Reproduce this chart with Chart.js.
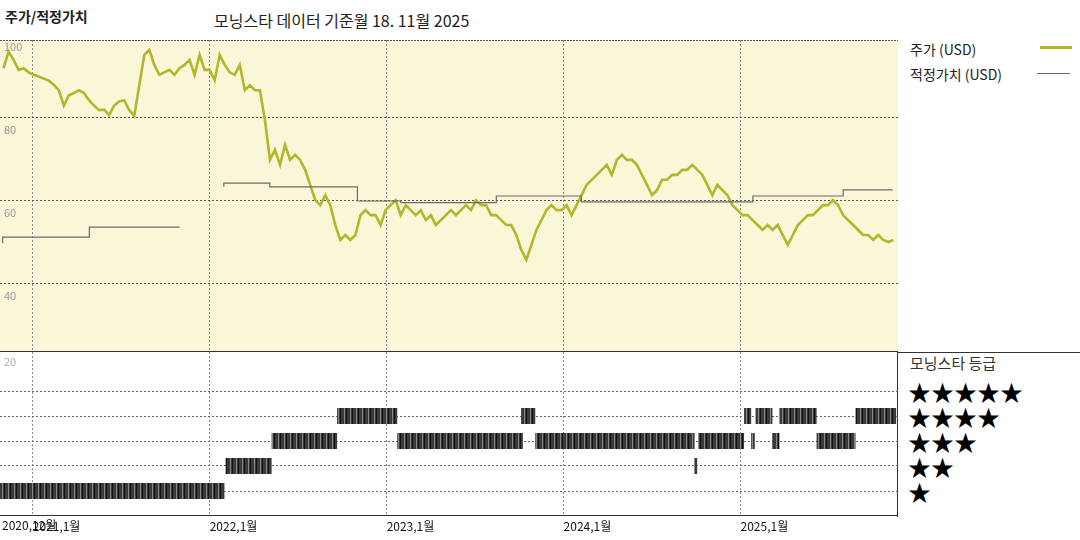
<!DOCTYPE html>
<html><head><meta charset="utf-8">
<script src="https://cdn.jsdelivr.net/npm/chart.js@4.4.1/dist/chart.umd.min.js"></script>
<style>
body{margin:0;width:1080px;height:540px;background:#fff;font-family:"Noto Sans CJK KR",sans-serif;position:relative;overflow:hidden}
.t{position:absolute;white-space:nowrap;color:#222}
#c1w{position:absolute;left:0;top:40px;width:898px;height:312px}
#c2w{position:absolute;left:0;top:352px;width:898px;height:188px}
.star{position:absolute;left:908px;font-size:23px;line-height:23px;color:#000;letter-spacing:0px}
</style></head><body>
<div class="t" style="left:5px;top:6px;font-size:14px;font-weight:bold">주가/적정가치</div>
<div class="t" style="left:214px;top:8px;font-size:16px">모닝스타 데이터 기준월 18. 11월 2025</div>
<div class="t" style="left:910px;top:39px;font-size:14px">주가 (USD)</div>
<div style="position:absolute;left:1040px;top:46px;width:32px;height:3px;background:#b3b62a"></div>
<div class="t" style="left:910px;top:64px;font-size:14px">적정가치 (USD)</div>
<div style="position:absolute;left:1037px;top:73px;width:33px;height:1px;background:#666"></div>
<div class="t" style="left:910px;top:352px;font-size:15px;color:#333">모닝스타 등급</div>
<div class="star" style="top:380px">★★★★★</div>
<div class="star" style="top:405px">★★★★</div>
<div class="star" style="top:430px">★★★</div>
<div class="star" style="top:455px">★★</div>
<div class="star" style="top:480px">★</div>
<div style="position:absolute;left:897px;top:40px;width:1px;height:477px;background:#333"></div>
<div style="position:absolute;left:897px;top:352px;width:183px;height:1px;background:#333"></div>
<div id="c1w"><canvas id="c1"></canvas></div>
<div id="c2w"><canvas id="c2"></canvas></div>
<script>
// dates in fractional years
const X_MIN = 2020.815, X_MAX = 2025.89;
const priceStart = 2020.835, priceStep = 0.02841;
const price = [92,96,94,91.6,92,91,90.4,90,89.5,89,88,86.7,83,85.5,86,86.7,86,84.3,83,81.9,82,80.7,83,84,84.3,81.9,80.5,87.9,95.2,96.4,92.8,90.4,91,91.6,90.4,92,92.8,94,90.4,95.2,91.6,91.6,89.1,95.2,92.8,91,90.4,92.8,86.7,87.9,86.7,86.7,79.5,69.9,72.3,68.7,73.5,69.9,71.1,69.9,67.5,63.9,60.2,59,61.4,59,54.2,50.6,51.8,50.6,51.8,56.6,57.8,56.6,56.6,54.2,57.8,59,60.2,56.6,59,57.8,56.6,57.8,55.4,56.6,54.2,55.4,56.6,57.8,56.6,57.8,59,57.8,60.2,59,59,56.6,56.6,55.4,54.2,54.2,51.8,48.2,45.8,49.4,53,55.4,57.8,59,57.8,57.8,59,56.6,59,61.4,63.9,65.1,66.3,67.5,68.7,66.3,69.9,71.1,69.9,69.9,68.7,66.3,63.9,61.4,62.6,65.1,65.1,66.3,66.3,67.5,67.5,68.7,67.5,66.3,63.9,61.4,63.9,62.6,61.4,59,57.8,56.6,56.6,55.4,54.2,53,54.2,53,54.2,51.8,49.4,51.8,54.2,55.4,56.6,56.6,57.8,59,59,60.2,59,56.6,55.4,54.2,53,51.8,51.8,50.6,51.8,50.6,50.1,50.6];
const fairDates = [2020.83,2021.32,2021.83,2022.07,2022.08,2022.34,2022.835,2023.08,2023.62,2024.10,2025.07,2025.58,2025.835,2025.86];
const fairValues = [49.9,51.3,53.7,null,63.4,64.3,63.4,60,59.6,61.2,59.8,61.2,62.7,62.7];
const ratingStart = [2020.81,2022.09,2022.35,2022.72,2023.06,2023.76,2023.84,2024.74,2024.76,2025.02,2025.06,2025.085,2025.18,2025.22,2025.43,2025.65];
const ratingEnd   = [2022.085,2022.35,2022.72,2023.06,2023.77,2023.84,2024.74,2024.755,2025.02,2025.06,2025.08,2025.18,2025.22,2025.43,2025.65,2025.88];
const ratingStars = [1,2,3,4,3,4,3,2,3,4,3,4,3,4,3,4];
const yTicks = [100,80,60,40];
const yearTicks = [2021,2022,2023,2024,2025];
const yearLabels = ['2021,1월','2022,1월','2023,1월','2024,1월','2025,1월'];

const FONT = '"Noto Sans CJK KR", sans-serif';
const pricePts = price.map((v,i)=>({x:priceStart+i*priceStep,y:v}));
const fairPts = fairDates.map((d,i)=>({x:d,y:fairValues[i]}));

function bg(color){return {id:'bg',beforeDraw(c){const a=c.chartArea,ctx=c.ctx;ctx.save();ctx.fillStyle=color;ctx.fillRect(a.left,a.top,a.right-a.left,a.bottom-a.top);ctx.restore();}};}
function xScale(showLabels){
  return {type:'linear',min:X_MIN,max:X_MAX,
    afterBuildTicks:s=>{s.ticks=yearTicks.map(v=>({value:v}));},
    afterFit:s=>{s.height=showLabels?24:0;},
    grid:{color:'#888',lineWidth:1,drawTicks:false},border:{display:false,dash:[2,2]},
    ticks:{display:showLabels,padding:3,color:'#111',font:{family:FONT,size:12},align:'start',
      callback:(v)=>yearLabels[yearTicks.indexOf(v)]}};
}
const topLabels={id:'tl',afterDraw(c){const ctx=c.ctx,y=c.scales.y,a=c.chartArea;ctx.save();ctx.fillStyle='#999';ctx.font='11px '+FONT;ctx.textBaseline='middle';
  yTicks.forEach(v=>ctx.fillText(String(v),a.left+4,y.getPixelForValue(v)+12));
  ctx.strokeStyle='#555';ctx.setLineDash([2,1]);ctx.beginPath();ctx.moveTo(a.left,a.top+0.5);ctx.lineTo(a.right,a.top+0.5);ctx.stroke();
  ctx.setLineDash([]);ctx.strokeStyle='#333';ctx.beginPath();ctx.moveTo(a.left,a.bottom-0.5);ctx.lineTo(a.right,a.bottom-0.5);ctx.stroke();
  ctx.restore();}};

new Chart(document.getElementById('c1'),{
  type:'scatter',
  data:{datasets:[
    {data:fairPts,showLine:true,stepped:'after',borderColor:'#6b6b6b',borderWidth:1.2,pointRadius:0,spanGaps:false},
    {data:pricePts,showLine:true,borderColor:'#b3b62a',borderWidth:2.6,pointRadius:0,tension:0}
  ]},
  options:{responsive:true,maintainAspectRatio:false,animation:false,layout:{padding:0},
    plugins:{legend:{display:false},tooltip:{enabled:false}},
    scales:{x:xScale(false),
      y:{min:23.6,max:98.8,afterBuildTicks:s=>{s.ticks=[80,60,40].map(v=>({value:v}));},afterFit:s=>{s.width=0;},
        grid:{color:'#555',drawTicks:false},border:{display:false,dash:[2,2]},ticks:{display:false}}}},
  plugins:[bg('#faf6d8'),topLabels]
});

// hatched pattern for rating bars
const pc=document.createElement('canvas');pc.width=6;pc.height=4;const p=pc.getContext('2d');
p.fillStyle='#3a3a3a';p.fillRect(0,0,6,4);p.fillStyle='#888';p.fillRect(2,0,1,4);p.fillStyle='#111';p.fillRect(4,0,1,4);
const bottomDeco={id:'bd',afterDraw(c){const ctx=c.ctx,a=c.chartArea;ctx.save();ctx.fillStyle='#aaa';ctx.font='11px '+FONT;ctx.textBaseline='middle';
  ctx.fillText('20',a.left+4,a.top+10);
  ctx.fillStyle='#111';ctx.font='12px '+FONT;ctx.textBaseline='top';ctx.fillText('2020,12월',a.left+2,a.bottom+3);
  ctx.strokeStyle='#333';ctx.beginPath();ctx.moveTo(a.left,a.bottom-0.5);ctx.lineTo(a.right,a.bottom-0.5);ctx.stroke();ctx.restore();}};
let pattern=null;
const ratingSets = ratingStars.map((r,i)=>({data:[{x:ratingStart[i],y:r},{x:ratingEnd[i],y:r}],showLine:true,borderWidth:16,borderCapStyle:'butt',
  borderColor:(ctx)=>{if(!pattern)pattern=ctx.chart.ctx.createPattern(pc,'repeat');return pattern;},pointRadius:0}));
new Chart(document.getElementById('c2'),{
  type:'scatter',
  data:{datasets:ratingSets},
  options:{responsive:true,maintainAspectRatio:false,animation:false,layout:{padding:0},
    plugins:{legend:{display:false},tooltip:{enabled:false}},
    scales:{x:xScale(true),
      y:{min:0,max:6.56,afterBuildTicks:s=>{s.ticks=[1,2,3,4,5].map(v=>({value:v}));},afterFit:s=>{s.width=0;},
        grid:{color:'#666',drawTicks:false},border:{display:false,dash:[2,2]},ticks:{display:false}}}},
  plugins:[bottomDeco]
});
</script></body></html>
